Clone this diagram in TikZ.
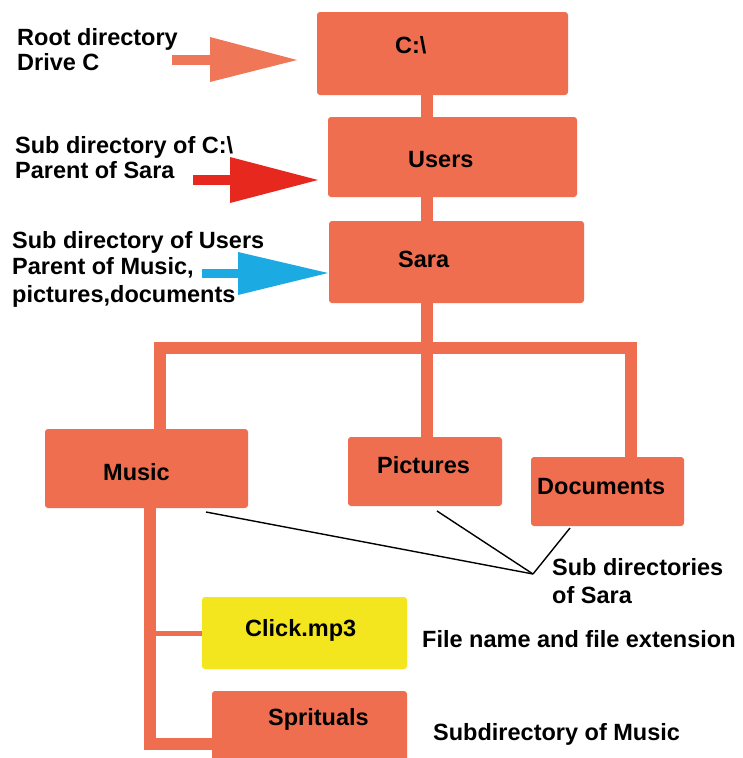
\documentclass[tikz,border=0pt]{standalone}
\usepackage{fontspec}
\setmainfont{Liberation Sans}
\definecolor{boxor}{RGB}{239,110,80}
\definecolor{arrsal}{RGB}{240,118,88}
\definecolor{arrred}{RGB}{230,40,30}
\definecolor{arrblue}{RGB}{28,170,226}
\definecolor{fileyel}{RGB}{244,230,30}
\tikzset{
  dirbox/.style={fill=boxor, draw=none, rounded corners=3pt, inner sep=0pt},
  filebox/.style={fill=fileyel, draw=none, rounded corners=3pt, inner sep=0pt},
  txt/.style={anchor=base west, inner sep=0pt, font=\fontsize{23.5}{26}\selectfont\bfseries, text=black},
  conn/.style={draw=boxor, line width=12pt, line join=miter, line cap=butt},
  thinconn/.style={draw=boxor, line width=5pt},
  pointer/.style={draw=black, line width=1.4pt},
}
\begin{document}
\begin{tikzpicture}[x=1pt,y=-1pt]
\useasboundingbox (0,0) rectangle (743,758);
\clip (0,0) rectangle (743,758);
\fill[white] (0,0) rectangle (743,758);

% boxes
\node[dirbox, minimum width=251pt, minimum height=83pt] (c) at (442.5,53.5) {};
\node[dirbox, minimum width=249pt, minimum height=80pt] (u) at (452.5,157) {};
\node[dirbox, minimum width=255pt, minimum height=82pt] (s) at (456.5,262) {};
\node[dirbox, minimum width=203pt, minimum height=79pt] (m) at (146.5,468.5) {};
\node[dirbox, minimum width=154pt, minimum height=69pt] (p) at (425,471.5) {};
\node[dirbox, minimum width=153pt, minimum height=69pt] (d) at (607.5,491.5) {};
\node[filebox, minimum width=205pt, minimum height=72pt] (ck) at (304.5,633) {};
\node[dirbox, minimum width=195pt, minimum height=79pt] (sp) at (309.5,730.5) {};

% box texts
\node[txt] (tc) at (395,53) {C:\textbackslash};
\node[txt] (tu) at (408,167) {Users};
\node[txt] (ts) at (398,267) {Sara};
\node[txt] (tm) at (103,480) {Music};
\node[txt] (tp) at (377,473) {Pictures};
\node[txt] (td) at (537,494) {Documents};
\node[txt] (tck) at (245,636) {Click.mp3};
\node[txt] (tsp) at (268,725) {Sprituals};

% connector coordinates
\coordinate (tx) at (427,0);
\coordinate (bar) at (0,347.5);
\coordinate (lx) at (159.5,0);
\coordinate (rx) at (630.5,0);
\coordinate (mx) at (150,0);
\coordinate (bt) at (0,744);

% connectors
\draw[conn] (c.south -| tx) -- (u.north -| tx);
\draw[conn] (u.south -| tx) -- (s.north -| tx);
\draw[conn] (s.south -| tx) -- (p.north -| tx);
\draw[conn] (m.north -| lx) -- (lx |- bar) -- (rx |- bar) -- (d.north -| rx);
\draw[conn] (m.south -| mx) -- (mx |- bt) -- (sp.west |- bt);
\draw[thinconn] (ck.west -| mx) -- (ck.west);

% arrows
\fill[arrsal] (172,55) rectangle (212,65);
\fill[arrsal] (210,37) -- (297,60) -- (210,82) -- cycle;
\fill[arrred] (193,175) rectangle (232,185);
\fill[arrred] (230,157) -- (318,180) -- (230,203) -- cycle;
\fill[arrblue] (202,269) rectangle (240,278);
\fill[arrblue] (238,252) -- (328,273) -- (238,295) -- cycle;

% side labels
\node[txt] (l1a) at (17,45) {Root directory};
\node[txt] (l1b) at (17,70) {Drive C};
\node[txt] (l2a) at (15,153) {Sub directory of C:\textbackslash};
\node[txt] (l2b) at (15,178) {Parent of Sara};
\node[txt] (l3a) at (12,248) {Sub directory of Users};
\node[txt] (l3b) at (12,274) {Parent of Music,};
\node[txt] (l3c) at (12,302) {pictures,documents};
\node[txt] (l4a) at (552,575) {Sub directories};
\node[txt] (l4b) at (552,603) {of Sara};
\node[txt] (l5) at (422,647) {File name and file extension};
\node[txt] (l6) at (433,740) {Subdirectory of Music};

% pointer lines
\coordinate (conv) at (533,574);
\draw[pointer] (206,512) -- (conv);
\draw[pointer] (437,511) -- (conv);
\draw[pointer] (570,528) -- (conv);
\end{tikzpicture}
\end{document}
